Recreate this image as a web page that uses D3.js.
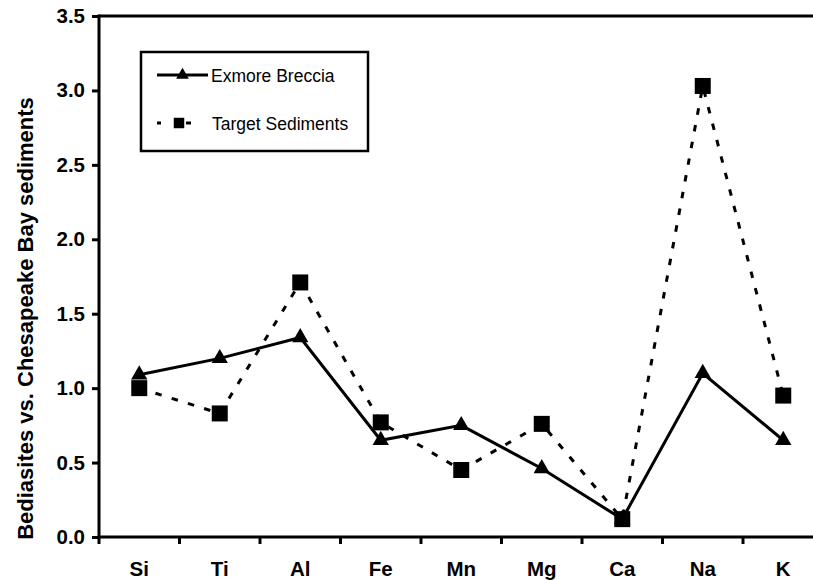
<!DOCTYPE html>
<html>
<head>
<meta charset="utf-8">
<script src="https://cdn.jsdelivr.net/npm/d3@7"></script>
<style>
  html, body { margin: 0; padding: 0; background: #fff; }
  svg { display: block; }
  text { font-family: Arial, "Liberation Sans", sans-serif; }
</style>
</head>
<body>
<script>
// ---- data ----
const categories = ["Si", "Ti", "Al", "Fe", "Mn", "Mg", "Ca", "Na", "K"];
const exmoreBreccia = [1.09, 1.20, 1.34, 0.65, 0.75, 0.46, 0.12, 1.10, 0.65];
const targetSediments = [1.00, 0.83, 1.71, 0.77, 0.45, 0.76, 0.12, 3.03, 0.95];
const yTicks = [0, 0.5, 1.0, 1.5, 2.0, 2.5, 3.0, 3.5];
const seriesNames = ["Exmore Breccia", "Target Sediments"];
const yTitle = "Bediasites vs. Chesapeake Bay sediments";

const W = 813, H = 580;
const mLeft = 99, mRight = 823.5, mTop = 16, mBottom = 537;

const svg = d3.select("body").append("svg").attr("width", W).attr("height", H);

const x = d3.scaleBand().domain(categories).range([mLeft, mRight]).padding(0);
const y = d3.scaleLinear().domain([0, 3.5]).range([mBottom, mTop]);

// top frame line
svg.append("line")
  .attr("x1", mLeft).attr("x2", W + 5)
  .attr("y1", y(3.5)).attr("y2", y(3.5))
  .attr("stroke", "#000").attr("stroke-width", 3);

// Y axis
const yAxis = d3.axisLeft(y).tickValues(yTicks).tickFormat(d3.format(".1f"))
  .tickSize(7).tickPadding(7);
const gy = svg.append("g").attr("transform", `translate(${mLeft},0)`).call(yAxis);
gy.select(".domain").attr("stroke-width", 3).attr("d", `M0,${mTop - 1.5}V${mBottom + 1.5}`);
gy.selectAll(".tick line").attr("stroke-width", 3);
gy.selectAll(".tick text").attr("font-size", 20.5).attr("font-weight", "bold")
  .attr("font-family", "Arial, 'Liberation Sans', sans-serif").attr("fill", "#000");

// X axis line
svg.append("line")
  .attr("x1", mLeft - 1.5).attr("x2", W + 5)
  .attr("y1", mBottom).attr("y2", mBottom)
  .attr("stroke", "#000").attr("stroke-width", 3);
// tick marks at band boundaries
svg.append("g").selectAll("line").data(categories).join("line")
  .attr("x1", d => x(d)).attr("x2", d => x(d))
  .attr("y1", mBottom).attr("y2", mBottom + 7)
  .attr("stroke", "#000").attr("stroke-width", 3);
svg.append("line")
  .attr("x1", mRight).attr("x2", mRight)
  .attr("y1", mBottom).attr("y2", mBottom + 7)
  .attr("stroke", "#000").attr("stroke-width", 3);
// category labels
svg.append("g").selectAll("text").data(categories).join("text")
  .attr("x", d => x(d) + x.bandwidth() / 2)
  .attr("y", 576)
  .attr("text-anchor", "middle")
  .attr("font-size", 20.5).attr("font-weight", "bold")
  .text(d => d);

// Y title
svg.append("text")
  .attr("transform", `translate(33,${(mTop + mBottom) / 2 + 42}) rotate(-90)`)
  .attr("text-anchor", "middle")
  .attr("font-size", 22).attr("font-weight", "bold")
  .text(yTitle);

const cx = (d, i) => x(categories[i]) + x.bandwidth() / 2;
const line = d3.line().x((d, i) => cx(d, i)).y(d => y(d));

// Target Sediments (dashed)
svg.append("path").datum(targetSediments)
  .attr("d", line).attr("fill", "none").attr("stroke", "#000")
  .attr("stroke-width", 3).attr("stroke-dasharray", "6.5,10.5");
// Exmore Breccia (solid)
svg.append("path").datum(exmoreBreccia)
  .attr("d", line).attr("fill", "none").attr("stroke", "#000")
  .attr("stroke-width", 3);

const tri = d3.symbol().type(d3.symbolTriangle).size(115);
const sq = d3.symbol().type(d3.symbolSquare).size(256);

svg.append("g").selectAll("path").data(targetSediments).join("path")
  .attr("transform", (d, i) => `translate(${cx(d, i)},${y(d)})`)
  .attr("d", sq).attr("fill", "#000");
svg.append("g").selectAll("path").data(exmoreBreccia).join("path")
  .attr("transform", (d, i) => `translate(${cx(d, i)},${y(d)})`)
  .attr("d", tri).attr("fill", "#000");

// Legend
const lg = svg.append("g");
lg.append("rect").attr("x", 141).attr("y", 52).attr("width", 227).attr("height", 99)
  .attr("fill", "#fff").attr("stroke", "#000").attr("stroke-width", 2.5);
lg.append("line").attr("x1", 157).attr("x2", 208).attr("y1", 75).attr("y2", 75)
  .attr("stroke", "#000").attr("stroke-width", 3);
lg.append("path").attr("transform", "translate(182.5,75)")
  .attr("d", d3.symbol().type(d3.symbolTriangle).size(70)).attr("fill", "#000");
lg.append("text").attr("x", 211).attr("y", 82).attr("font-size", 17.5).text(seriesNames[0]);

lg.append("line").attr("x1", 157).attr("x2", 161).attr("y1", 123).attr("y2", 123)
  .attr("stroke", "#000").attr("stroke-width", 3);
lg.append("line").attr("x1", 186).attr("x2", 191).attr("y1", 123).attr("y2", 123)
  .attr("stroke", "#000").attr("stroke-width", 3);
lg.append("path").attr("transform", "translate(179,123)")
  .attr("d", d3.symbol().type(d3.symbolSquare).size(110)).attr("fill", "#000");
lg.append("text").attr("x", 212).attr("y", 130).attr("font-size", 17.5).text(seriesNames[1]);
</script>
</body>
</html>
